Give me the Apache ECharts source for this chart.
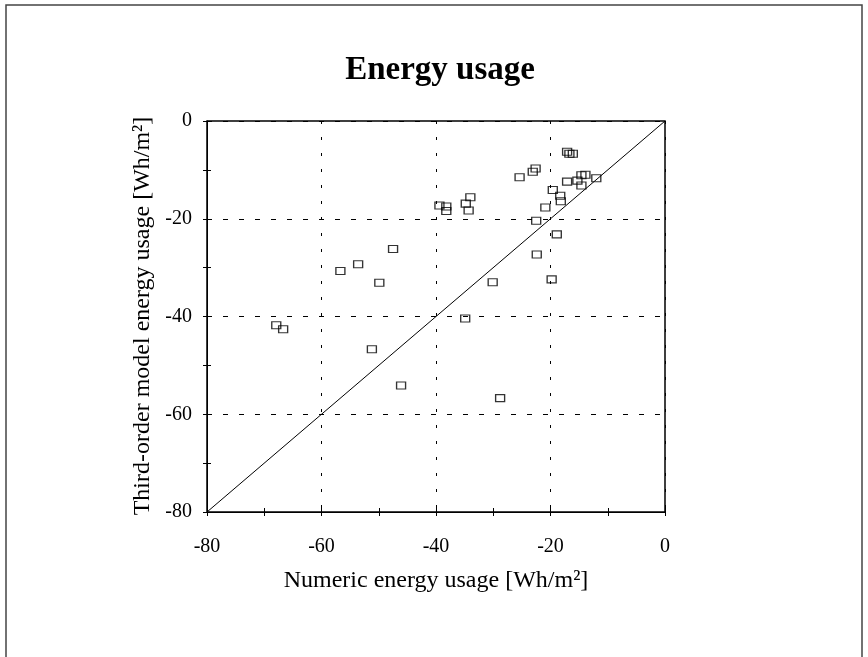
<!DOCTYPE html>
<html>
<head>
<meta charset="utf-8">
<title>Energy usage</title>
<script src="https://cdn.jsdelivr.net/npm/echarts@6/dist/echarts.min.js"></script>
<style>
  html, body { margin: 0; padding: 0; background: #fff; }
  #chart { width: 868px; height: 657px; }
</style>
</head>
<body>
<div id="chart"></div>
<script>
// Numeric energy usage vs. third-order model energy usage [Wh/m²]
const numericUsage = [
  -17.1, -16.7, -16.1, -22.6, -23.1, -25.4, -13.9, -14.6, -12.0, -17.1,
  -15.3, -14.6, -19.6, -18.3, -18.2, -20.9, -22.5, -18.9, -22.4, -19.8,
  -30.1, -34.9, -28.8, -34.0, -34.8, -34.3, -39.4, -38.2, -38.2, -47.5,
  -53.6, -56.7, -49.9, -67.9, -66.7, -51.2, -46.1
];
const modelUsage = [
  -6.3, -6.7, -6.7, -9.7, -10.4, -11.5, -11.0, -11.1, -11.7, -12.4,
  -12.2, -13.2, -14.1, -15.3, -16.4, -17.7, -20.4, -23.2, -27.3, -32.4,
  -33.0, -40.4, -56.7, -15.6, -16.9, -18.3, -17.3, -17.5, -18.4, -26.2,
  -29.3, -30.7, -33.1, -41.8, -42.6, -46.7, -54.1
];
// y = x reference line end points
const identityLine = [[-80, -80], [0, 0]];
const axisMin = -80, axisMax = 0, labelStep = 20, tickStep = 10;

const serif = '"Liberation Serif", "Times New Roman", serif';
const points = numericUsage.map((x, i) => [x, modelUsage[i]]);

const chart = echarts.init(document.getElementById('chart'), null, { renderer: 'canvas' });

// Labelled axis: outward ticks every 10, dashed grid lines every 20.
function mainAxis(position, margin, dash) {
  return {
    type: 'value', position: position, min: axisMin, max: axisMax, interval: labelStep,
    axisLine: { show: true, onZero: false, lineStyle: { color: '#000', width: 1 } },
    axisTick: { show: true, inside: false, length: 4, lineStyle: { color: '#000' } },
    minorTick: { show: true, splitNumber: labelStep / tickStep, length: 4, lineStyle: { color: '#000' } },
    axisLabel: { color: '#000', fontFamily: serif, fontSize: 20, margin: margin },
    splitLine: { show: true, lineStyle: { color: '#000', width: 1, type: dash } }
  };
}
// Companion axis on the same side carrying the inward half of each tick.
function innerTicks(position) {
  return {
    type: 'value', position: position, min: axisMin, max: axisMax, interval: labelStep,
    axisLine: { show: false, onZero: false },
    axisTick: { show: true, inside: true, length: 4, lineStyle: { color: '#000' } },
    minorTick: { show: true, splitNumber: labelStep / tickStep, length: 4, lineStyle: { color: '#000' } },
    axisLabel: { show: false },
    splitLine: { show: false }
  };
}

chart.setOption({
  animation: false,
  backgroundColor: '#fff',
  grid: {
    left: 207, right: 203, top: 121, bottom: 145,
    show: true, borderColor: '#000', borderWidth: 1.5, backgroundColor: 'transparent'
  },
  xAxis: [ mainAxis('bottom', 25, [3, 13]), innerTicks('bottom') ],
  yAxis: [ mainAxis('left', 15, [5, 11]), innerTicks('left') ],
  graphic: [
    { type: 'polyline', silent: true,
      shape: { points: [[6, 660], [6, 5], [862, 5], [862, 660]] },
      style: { stroke: '#444', lineWidth: 1.5, fill: null } },
    { type: 'text', x: 440, y: 70,
      style: { text: 'Energy usage', font: 'bold 33px ' + serif, fill: '#000',
               textAlign: 'center', textVerticalAlign: 'middle' } },
    { type: 'text', x: 436, y: 581,
      style: { text: 'Numeric energy usage [Wh/m²]', font: '24px ' + serif, fill: '#000',
               textAlign: 'center', textVerticalAlign: 'middle' } },
    { type: 'text', x: 143, y: 316, rotation: Math.PI / 2,
      style: { text: 'Third-order model energy usage [Wh/m²]', font: '24px ' + serif, fill: '#000',
               textAlign: 'center', textVerticalAlign: 'middle' } }
  ],
  series: [
    {
      type: 'line', xAxisIndex: 0, yAxisIndex: 0,
      data: identityLine, showSymbol: false, symbol: 'none', silent: true,
      lineStyle: { color: '#000', width: 1 }, z: 2
    },
    {
      type: 'scatter', xAxisIndex: 0, yAxisIndex: 0,
      data: points, symbol: 'rect', symbolSize: [9, 7],
      itemStyle: { color: 'rgba(0,0,0,0)', borderColor: '#000', borderWidth: 1.2 }, z: 3
    }
  ]
});
</script>
</body>
</html>
